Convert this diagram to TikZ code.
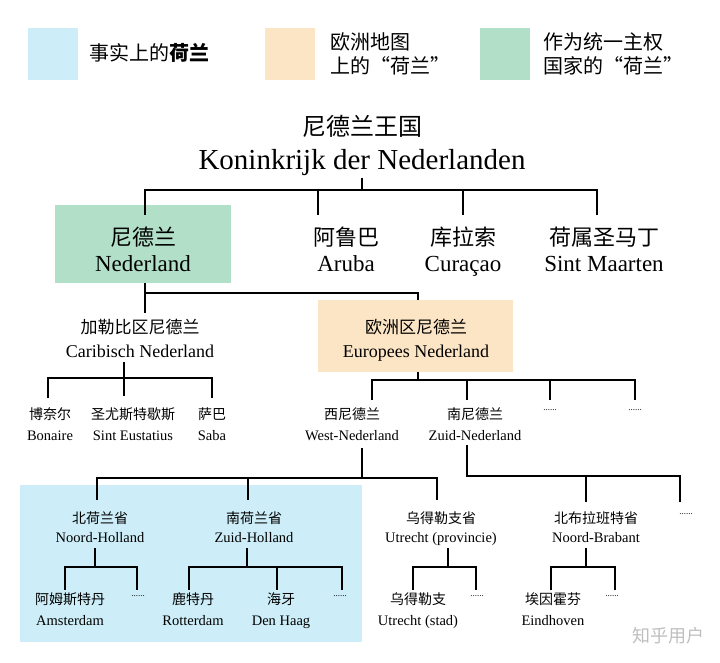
\documentclass[tikz,border=0pt]{standalone}
\usepackage{fontspec}
\setmainfont{Liberation Serif}
\newfontfamily\cjk{Noto Sans CJK SC}
\definecolor{cblue}{HTML}{CDEEF8}
\definecolor{corange}{HTML}{FCE5C5}
\definecolor{cgreen}{HTML}{B2DFC7}
\newcommand\pairnode[8]{%
  \node[lab,anchor=base,font=\fontsize{#5}{#5}\selectfont\cjk] (#1-c) at (#2,#3) {#7};
  \node[lab,anchor=base,font=\fontsize{#6}{#6}\selectfont] (#1-l) at (#2,#4) {#8};}
\begin{document}
\begin{tikzpicture}[x=1pt,y=-1pt,
  ln/.style={line width=2.6pt},
  lab/.style={align=center,inner sep=0pt},
  dots/.style={lab,font=\fontsize{9}{9}\selectfont}]
\useasboundingbox (0,0) rectangle (720,663);
\fill[white] (0,0) rectangle (720,663);
\fill[cblue] (28,28) rectangle (78,80);
\fill[corange] (265,28) rectangle (315,80);
\fill[cgreen] (480,28) rectangle (530,80);
\node[lab,anchor=west,font=\fontsize{20}{24}\selectfont\cjk] (l1) at (89,53) {事实上的\textbf{荷兰}};
\node[lab,anchor=west,align=left,font=\fontsize{20}{24}\selectfont\cjk] (l2) at (330,54) {欧洲地图\\上的“荷兰”};
\node[lab,anchor=west,align=left,font=\fontsize{20}{24}\selectfont\cjk] (l3) at (543,54) {作为统一主权\\国家的“荷兰”};
\fill[cgreen] (55,205) rectangle (231,283);
\fill[corange] (318,300) rectangle (513,372);
\fill[cblue] (20,485) rectangle (362,642);
\pairnode{root}{362}{136}{170}{24}{29}{尼德兰王国}{Koninkrijk der Nederlanden}
\pairnode{ned}{143}{245}{271}{22}{23}{尼德兰}{Nederland}
\pairnode{aru}{346}{245}{271}{22}{23}{阿鲁巴}{Aruba}
\pairnode{cur}{463}{245}{271}{22}{23}{库拉索}{Curaçao}
\pairnode{sm}{604}{245}{271}{22}{23}{荷属圣马丁}{Sint Maarten}
\pairnode{car}{140}{333}{357}{17}{18}{加勒比区尼德兰}{Caribisch Nederland}
\pairnode{eur}{416}{333}{357}{17}{18}{欧洲区尼德兰}{Europees Nederland}
\pairnode{bon}{50}{419}{440}{14}{14.5}{博奈尔}{Bonaire}
\pairnode{ste}{133}{419}{440}{14}{14.5}{圣尤斯特歇斯}{Sint Eustatius}
\pairnode{sab}{212}{419}{440}{14}{14.5}{萨巴}{Saba}
\pairnode{wn}{352}{419}{440}{14}{14.5}{西尼德兰}{West-Nederland}
\pairnode{zn}{475}{419}{440}{14}{14.5}{南尼德兰}{Zuid-Nederland}
\node[dots] (d1) at (550,410) {......};
\node[dots] (d2) at (635,410) {......};
\pairnode{nh}{100}{523}{542}{14}{14.5}{北荷兰省}{Noord-Holland}
\pairnode{zh}{254}{523}{542}{14}{14.5}{南荷兰省}{Zuid-Holland}
\pairnode{up}{441}{523}{542}{14}{14.5}{乌得勒支省}{Utrecht (provincie)}
\pairnode{nb}{596}{523}{542}{14}{14.5}{北布拉班特省}{Noord-Brabant}
\node[dots] (d3) at (686,514) {......};
\pairnode{ams}{70}{604}{625}{14}{14.5}{阿姆斯特丹}{Amsterdam}
\node[dots] (d4) at (138,596) {......};
\pairnode{rot}{193}{604}{625}{14}{14.5}{鹿特丹}{Rotterdam}
\pairnode{dh}{281}{604}{625}{14}{14.5}{海牙}{Den Haag}
\node[dots] (d5) at (340,596) {......};
\pairnode{ut}{418}{604}{625}{14}{14.5}{乌得勒支}{Utrecht (stad)}
\node[dots] (d6) at (477,596) {......};
\pairnode{ein}{553}{604}{625}{14}{14.5}{埃因霍芬}{Eindhoven}
\node[dots] (d7) at (612,596) {......};
\node[lab,text=black!25,font=\fontsize{18}{20}\selectfont\cjk] (wm) at (668,636) {知乎用户};
\draw[ln] (362,178) -- (362,190);
\draw[ln] (145,215) -- (145,190) -- (597,190) -- (597,215);
\draw[ln] (318,190) -- (318,215);
\draw[ln] (463,190) -- (463,215);
\draw[ln] (145,283) -- (145,293) -- (418,293) -- (418,300);
\draw[ln] (145,293) -- (145,313);
\draw[ln] (124,362) -- (124,396);
\draw[ln] (48,398) -- (48,378) -- (212,378) -- (212,398);
\draw[ln] (418,372) -- (418,380);
\draw[ln] (372,400) -- (372,380) -- (635,380) -- (635,400);
\draw[ln] (467,380) -- (467,400);
\draw[ln] (550,380) -- (550,400);
\draw[ln] (362,448) -- (362,478);
\draw[ln] (97,500) -- (97,478) -- (437,478) -- (437,500);
\draw[ln] (248,478) -- (248,500);
\draw[ln] (467,445) -- (467,476) -- (680,476) -- (680,502);
\draw[ln] (586,476) -- (586,502);
\draw[ln] (95,548) -- (95,567);
\draw[ln] (65,590) -- (65,567) -- (137,567) -- (137,590);
\draw[ln] (247,548) -- (247,567);
\draw[ln] (189,590) -- (189,567) -- (342,567) -- (342,590);
\draw[ln] (277,567) -- (277,590);
\draw[ln] (448,548) -- (448,567);
\draw[ln] (413,590) -- (413,567) -- (476,567) -- (476,590);
\draw[ln] (586,548) -- (586,567);
\draw[ln] (551,590) -- (551,567) -- (615,567) -- (615,590);
\end{tikzpicture}
\end{document}
